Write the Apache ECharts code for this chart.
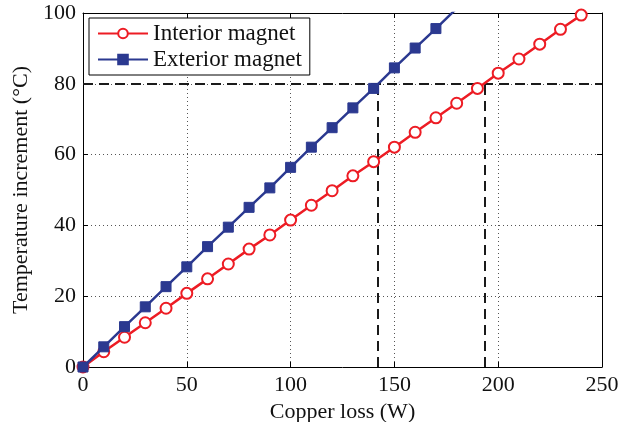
<!DOCTYPE html>
<html>
<head>
<meta charset="utf-8">
<script src="https://cdn.jsdelivr.net/npm/echarts@6/dist/echarts.min.js"></script>
<style>html,body{margin:0;padding:0;background:#fff}#c{width:640px;height:422px}</style>
</head>
<body>
<div id="c"></div>
<script>
const interiorX = [0,10,20,30,40,50,60,70,80,90,100,110,120,130,140,150,160,170,180,190,200,210,220,230,240];
const interiorY = [0,4.3,8.4,12.5,16.6,20.8,24.9,29.1,33.3,37.3,41.5,45.7,49.8,54.0,58.0,62.1,66.3,70.4,74.5,78.7,83.0,87.0,91.2,95.4,99.4];
const exteriorX = [0,10,20,30,40,50,60,70,80,90,100,110,120,130,140,150,160,170,180];
const exteriorY = [0,5.7,11.4,17.0,22.7,28.3,34.0,39.5,45.1,50.6,56.4,62.1,67.6,73.2,78.7,84.5,90.1,95.6,101.3];
const limitY = 80;
const limitLineX = [0,250];
const crossX = [141.8,193.3];
const xTicks = [0,50,100,150,200,250];
const yTicks = [0,20,40,60,80,100];

const FONT = '"Liberation Serif","DejaVu Serif",serif';
const chart = echarts.init(document.getElementById('c'), null, {renderer:'canvas'});
const zip = (xs, ys) => xs.map((x,i)=>[x, ys[i]]);
function gridLine(){ return {show:true, lineStyle:{color:'#555', width:1, type:[1,3]}}; }
function xAx(pos, extra){
  return Object.assign({type:'value', min:xTicks[0], max:xTicks[xTicks.length-1], interval:50, position:pos,
    axisLine:{show:true, onZero:false, lineStyle:{color:'#000', width:1}},
    axisTick:{show:true, inside:true, length:5, lineStyle:{color:'#000'}}}, extra);
}
function yAx(pos, extra){
  return Object.assign({type:'value', min:yTicks[0], max:yTicks[yTicks.length-1], interval:20, position:pos,
    axisLine:{show:true, onZero:false, lineStyle:{color:'#000', width:1}},
    axisTick:{show:true, inside:true, length:5, lineStyle:{color:'#000'}}}, extra);
}
const refLines = [
  [{coord:[limitLineX[0], limitY]}, {coord:[limitLineX[1], limitY]}],
  [{coord:[crossX[0], 0]}, {coord:[crossX[0], limitY]}],
  [{coord:[crossX[1], 0]}, {coord:[crossX[1], limitY]}]
];
chart.setOption({
  animation:false,
  backgroundColor:'#fff',
  grid:{left:83, right:38, top:13, bottom:55, containLabel:false, outerBoundsMode:'none'},
  legend:{
    left:89, top:18, orient:'vertical', padding:[4,8,4,8], itemGap:3,
    itemWidth:50, itemHeight:12, borderColor:'#000', borderWidth:1, backgroundColor:'#fff',
    textStyle:{fontFamily:FONT, fontSize:23, color:'#111'},
    data:['Interior magnet','Exterior magnet']
  },
  xAxis:[
    xAx('bottom', {name:'Copper loss (W)', nameLocation:'middle', nameGap:33,
      nameTextStyle:{fontFamily:FONT, fontSize:22, color:'#111'},
      axisLabel:{fontFamily:FONT, fontSize:22, color:'#111', margin:7},
      splitLine:gridLine()}),
    xAx('top', {axisLabel:{show:false}, splitLine:{show:false}})
  ],
  yAxis:[
    yAx('left', {name:'Temperature increment (°C)', nameLocation:'middle', nameGap:44,
      nameTextStyle:{fontFamily:FONT, fontSize:22, color:'#111'},
      axisLabel:{fontFamily:FONT, fontSize:22, color:'#111', margin:7},
      splitLine:gridLine()}),
    yAx('right', {axisLabel:{show:false}, splitLine:{show:false}})
  ],
  series:[
    {name:'Interior magnet', type:'line', data:zip(interiorX, interiorY), clip:true,
      showSymbol:true, symbol:'emptyCircle', symbolSize:11,
      lineStyle:{color:'#ED1C24', width:2.5, type:'solid'},
      itemStyle:{color:'#ED1C24', borderColor:'#ED1C24', borderWidth:2.7}, z:4,
      markLine:{silent:true, symbol:['none','none'], label:{show:false}, animation:false,
        lineStyle:{color:'#1a1a1a', width:2, type:[10,6]}, z:3, data:refLines}},
    {name:'Exterior magnet', type:'line', data:zip(exteriorX, exteriorY), clip:true,
      showSymbol:true, symbol:'rect', symbolSize:10,
      lineStyle:{color:'#2B3990', width:2.5, type:'solid'},
      itemStyle:{color:'#2B3990', borderColor:'#2B3990', borderWidth:1}, z:5}
  ]
});
</script>
</body>
</html>
